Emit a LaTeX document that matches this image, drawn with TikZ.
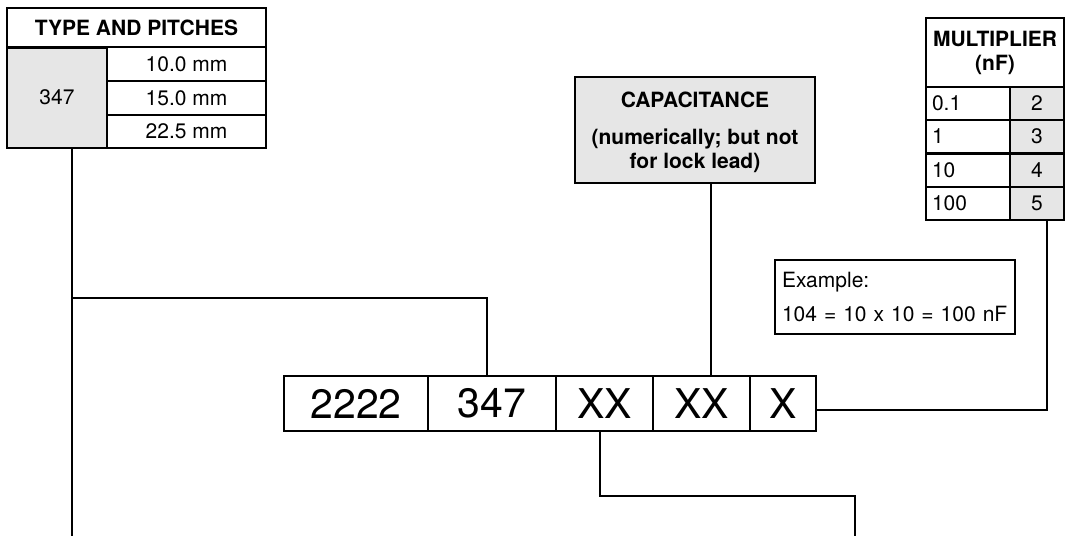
\documentclass[tikz,border=0pt]{standalone}
\usepackage{fontspec}
\setmainfont{TeX Gyre Heros}
\usepackage{tikz}
\usetikzlibrary{positioning,calc}
\definecolor{cellgray}{RGB}{230,230,230}
\newcommand{\smallfont}{\fontsize{21}{24}\selectfont}
\newcommand{\bigfont}{\fontsize{41}{41}\selectfont}

\begin{document}
\begin{tikzpicture}[x=1pt,y=-1pt,
  cell/.style={draw,line width=2pt,inner sep=0pt,font=\smallfont,align=center},
  code/.style={draw,line width=2.6pt,inner sep=0pt,minimum height=55pt,font=\bigfont},
  link/.style={line width=2pt}]
  \useasboundingbox (0,0) rectangle (1073,536);

  % type and pitches
  \node[cell,minimum width=259pt,minimum height=39pt,font=\smallfont\bfseries] (tphead) at (136.5,27.5) {TYPE AND PITCHES};
  \node[cell,fill=cellgray,minimum width=100pt,minimum height=100pt] (tpcode) at (57,97.5) {347};
  \node[cell,minimum width=159pt,minimum height=34pt] (tp1) at (186.5,64) {10.0 mm};
  \node[cell,minimum width=159pt,minimum height=34pt] (tp2) at (186.5,98) {15.0 mm};
  \node[cell,minimum width=159pt,minimum height=33pt] (tp3) at (186.5,131.5) {22.5 mm};

  % capacitance
  \node[cell,fill=cellgray,minimum width=240pt,minimum height=106pt,font=\smallfont\bfseries,text depth=0pt] (cap) at (695,130)
    {CAPACITANCE\\[13pt](numerically; but not\\for lock lead)};

  % multiplier
  \node[cell,minimum width=138pt,minimum height=69pt,font=\smallfont\bfseries] (mhead) at (995,52.5) {MULTIPLIER\\(nF)};
  \foreach \v/\n/\yy [count=\i] in {0.1/2/103.5,1/3/136.5,10/4/170,100/5/203}{
    \node[cell,minimum width=84pt,minimum height=33pt,text width=72pt,align=left] (mv\i) at (968,\yy) {\v};
    \node[cell,fill=cellgray,minimum width=54pt,minimum height=33pt] (mn\i) at (1037,\yy) {\n};
  }

  % example
  \node[cell,line width=1.6pt,minimum width=240pt,minimum height=74pt,text width=226pt,align=left] (expl) at (895,297)
    {Example:\\[10pt]104 = 10 x 10 = 100 nF};

  % code boxes
  \node[code,minimum width=144pt] (b2222) at (356,403.5) {2222};
  \node[code,minimum width=128pt] (b347) at (492,403.5) {347};
  \node[code,minimum width=97pt] (bxx1) at (604.5,403.5) {XX};
  \node[code,minimum width=97pt] (bxx2) at (701.5,403.5) {XX};
  \node[code,minimum width=66pt] (bx) at (783,403.5) {X};

  % connectors
  \coordinate (tpend) at (72,536);
  \coordinate (tpjoin) at (72,298);
  \coordinate (xxend) at (855,536);
  \draw[link] (tpcode.south -| tpend) -- (tpend);
  \draw[link] (tpjoin) -| ([xshift=-5pt]b347.north);
  \draw[link] ([xshift=16pt]cap.south) -- ([xshift=16pt]cap.south |- bxx2.north);
  \draw[link] ([xshift=10pt]mn4.south) |- ([yshift=-6pt]bx.east);
  \draw[link] ([xshift=-5pt]bxx1.south) -- ++(0,64) -| (xxend);
\end{tikzpicture}
\end{document}
